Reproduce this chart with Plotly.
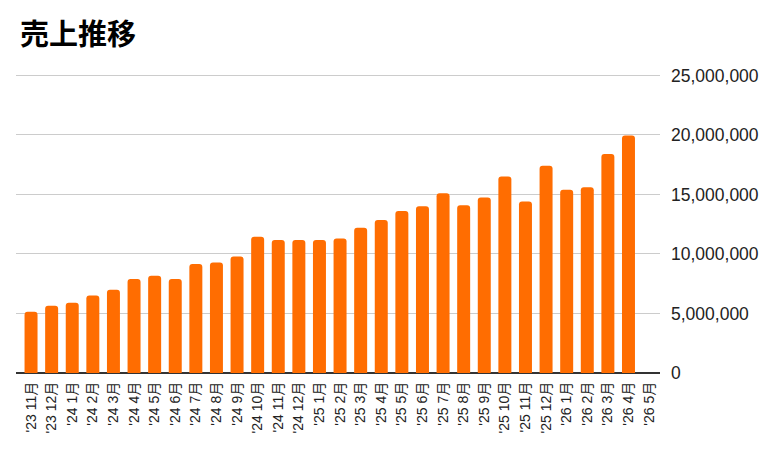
import plotly.graph_objects as go

months = ["'23 11月", "'23 12月", "'24 1月", "'24 2月", "'24 3月", "'24 4月", "'24 5月", "'24 6月",
          "'24 7月", "'24 8月", "'24 9月", "'24 10月", "'24 11月", "'24 12月", "'25 1月", "'25 2月",
          "'25 3月", "'25 4月", "'25 5月", "'25 6月", "'25 7月", "'25 8月", "'25 9月", "'25 10月",
          "'25 11月", "'25 12月", "'26 1月", "'26 2月", "'26 3月", "'26 4月", "'26 5月"]
sales = [5140000, 5650000, 5900000, 6500000, 7000000, 7900000, 8160000, 7900000,
         9160000, 9280000, 9780000, 11450000, 11180000, 11180000, 11180000, 11300000,
         12200000, 12850000, 13600000, 14000000, 15100000, 14100000, 14750000, 16500000,
         14400000, 17400000, 15400000, 15600000, 18400000, 19950000, None]
y_ticks = [0, 5000000, 10000000, 15000000, 20000000, 25000000]

fig = go.Figure(go.Bar(
    x=months, y=sales,
    marker=dict(color="#ff6d01", cornerradius=3, line=dict(width=0)),
))

fig.update_layout(
    width=779, height=454,
    margin=dict(l=8, r=127, t=65, b=89),
    paper_bgcolor="white", plot_bgcolor="white",
    bargap=0.37,
    showlegend=False,
    font=dict(family="Liberation Sans, Arial, Noto Sans CJK JP", color="#222"),
    title=dict(text="<b>売上推移</b>", x=0, xref="paper", xanchor="left", y=1, yref="container",
               yanchor="top", pad=dict(t=17, l=4),
               font=dict(family="Noto Sans CJK JP", size=29, color="#000")),
    xaxis=dict(
        type="category", range=[-0.73, 30.53],
        tickangle=-90, tickfont=dict(size=14, color="#222", family="Liberation Sans, Noto Sans CJK JP"),
        showgrid=False, showline=False, ticks="", ticklen=0, ticklabelstandoff=5,
    ),
    yaxis=dict(
        side="right", range=[0, 25200000], tickvals=y_ticks, tickformat=",d",
        showgrid=True, gridcolor="#cccccc", gridwidth=1,
        zeroline=True, zerolinecolor="#333333", zerolinewidth=1.5,
        tickfont=dict(size=17.5, color="#222"), ticks="", ticklabelstandoff=10,
    ),
)

fig.write_html("out.html")
